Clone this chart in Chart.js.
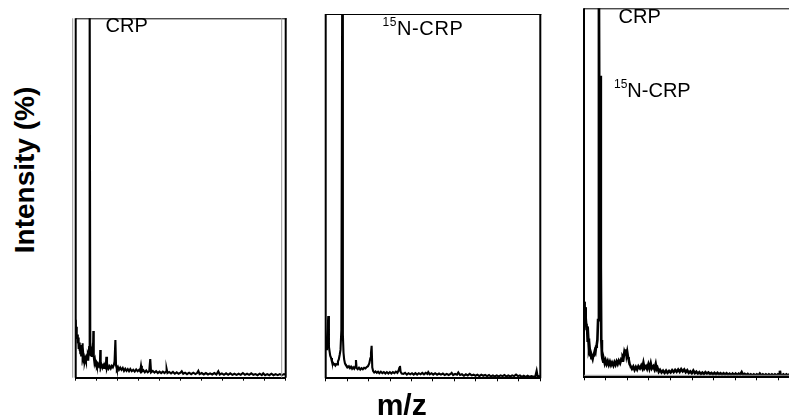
<!DOCTYPE html>
<html>
<head>
<meta charset="utf-8">
<script src="https://cdn.jsdelivr.net/npm/chart.js@4.4.0/dist/chart.umd.min.js"></script>
<style>
  html, body { margin: 0; padding: 0; background: #fff; overflow: hidden; }
  #page { position: relative; width: 789px; height: 419px; overflow: hidden;
          font-family: "Liberation Sans", Arial, sans-serif; color: #000; }
  .panel { position: absolute; top: 0; height: 419px; }
  .lbl { position: absolute; font-size: 20px; line-height: 20px; white-space: nowrap; }
  .lbl sup { font-size: 12px; position: relative; top: -9px; vertical-align: baseline; }
  .axis-title { position: absolute; font-weight: bold; font-size: 28px; line-height: 28px;
                white-space: nowrap; text-align: center; }
</style>
</head>
<body>
<div id="page">
  <div class="panel" id="p1"><canvas id="c1"></canvas></div>
  <div class="panel" id="p2"><canvas id="c2"></canvas></div>
  <div class="panel" id="p3"><canvas id="c3"></canvas></div>

  <div class="lbl" id="t1" style="left:105.5px; top:14.8px;"></div>
  <div class="lbl" id="t2" style="left:382.5px; top:18.1px; letter-spacing:0.6px;"></div>
  <div class="lbl" id="t3a" style="left:618.5px; top:6.4px;"></div>
  <div class="lbl" id="t3b" style="left:614px; top:79.8px;"></div>

  <div class="axis-title" id="ytitle" style="left:-75px; top:156px; width:200px; transform:rotate(-90deg);"></div>
  <div class="axis-title" id="xtitle" style="left:341.7px; top:390px; width:120px; font-size:30px; line-height:30px;"></div>
</div>
<script>
// axis titles and peak labels
const yTitle = 'Intensity (%)';
const xTitle = 'm/z';
const panelLabels = [['CRP'], ['15N-CRP'], ['CRP', '15N-CRP']];

// m/z axis: 0..100 (relative), minor ticks every 10, no labels
const mzMin = 0, mzMax = 100, mzStep = 10;

// spectra: [m/z (relative), intensity %]
const crpSpectrum = [
  [0,16.1],[0.2,12.5],[0.4,14.2],[0.6,10.8],[0.8,12.0],[1.0,9.5],[1.2,11.2],[1.4,8.0],[1.6,9.8],[1.8,7.5],
  [2.0,9.0],[2.2,6.8],[2.4,9.1],[2.6,6.2],[2.8,7.5],[3.0,8.4],[3.2,9.6],[3.4,5.8],[3.6,6.6],[3.8,5.2],
  [4.0,5.6],[4.3,4.5],[4.6,5.3],[4.9,4.6],[5.2,5.6],[5.5,5.0],[5.8,6.5],[6.1,6.0],[6.4,8.5],[6.6,9.6],
  [6.7,110],[6.95,8.7],[7.2,6.0],[7.4,6.8],[7.7,5.8],[7.9,7.2],[8.2,6.0],[8.4,13.0],[8.6,5.8],[8.9,4.3],
  [9.2,5.0],[9.5,3.8],[9.8,4.2],[10.1,3.4],[10.4,3.9],[10.8,3.3],[11.1,3.8],[11.5,3.1],[11.7,7.7],[11.9,3.0],
  [12.3,3.6],[12.7,2.8],[13.1,3.4],[13.5,2.7],[13.9,3.3],[14.3,2.8],[14.6,5.8],[14.9,2.6],[15.3,3.3],[15.7,2.6],
  [16.2,3.2],[16.7,2.6],[17.2,3.3],[17.7,2.9],[18.2,3.6],[18.5,4.5],[18.9,10.5],[19.2,3.4],[19.6,2.4],[20.1,3.0],
  [20.6,2.2],[21.2,2.8],[21.8,2.2],[22.4,2.7],[23.0,1.9],[23.6,2.5],[24.2,1.9],[24.8,2.4],[25.4,1.8],[26.0,2.4],
  [26.7,1.8],[27.4,2.2],[28.1,1.7],[28.8,2.3],[29.5,1.8],[30.2,2.2],[30.7,1.8],[31.1,3.3],[31.5,1.7],[32.2,2.1],
  [32.9,1.5],[33.6,2.0],[34.3,1.5],[35.0,1.8],[35.5,5.2],[35.9,1.5],[36.7,1.9],[37.5,1.4],[38.3,1.8],[39.1,1.3],
  [39.9,1.7],[40.7,1.3],[41.5,1.7],[42.3,1.3],[43.0,1.7],[43.3,2.4],[43.7,1.3],[44.5,1.6],[45.4,1.2],[46.3,1.6],
  [47.2,1.1],[48.1,1.5],[49.0,1.1],[49.9,1.4],[50.5,1.8],[51.2,1.1],[52.1,1.4],[53.0,1.0],[54.0,1.4],[55.0,1.0],
  [56.0,1.4],[57.0,1.0],[57.8,1.3],[58.4,1.9],[59.0,1.0],[60.0,1.3],[61.0,0.9],[62.0,1.3],[63.0,0.9],[64.0,1.2],
  [65.0,0.9],[66.0,1.3],[67.0,0.9],[67.9,1.8],[68.6,0.9],[69.6,1.2],[70.6,0.8],[71.6,1.2],[72.6,0.8],[73.6,1.2],
  [74.6,0.8],[75.6,1.1],[76.6,0.8],[77.6,1.1],[78.6,0.8],[79.6,1.3],[80.6,0.8],[81.6,1.1],[82.6,0.8],[83.6,1.2],
  [84.6,0.8],[85.6,1.0],[86.6,0.7],[87.6,1.1],[88.6,0.7],[89.3,1.2],[90.2,0.7],[91.2,1.0],[92.2,0.7],[93.2,1.1],
  [94.2,0.7],[95.2,1.0],[96.2,0.7],[97.2,1.0],[98.2,0.7],[99.2,1.0],[100,0.8]
];

const n15Spectrum = [
  [0,9.6],[0.3,8.0],[0.6,11.0],[0.9,13.3],[1.2,17.1],[1.5,8.7],[1.8,7.4],[2.1,6.2],[2.5,5.6],[2.9,4.6],
  [3.3,4.4],[3.7,3.8],[4.1,3.9],[4.5,3.5],[4.9,3.9],[5.3,3.8],[5.7,4.6],[6.1,5.2],[6.5,6.4],[6.9,7.8],
  [7.3,13.3],[7.7,110],[8.0,12.0],[8.3,7.0],[8.6,5.2],[9.0,4.0],[9.4,3.6],[9.8,3.4],[10.3,3.0],[10.8,3.3],
  [11.3,2.8],[11.8,3.2],[12.3,2.6],[12.8,3.0],[13.3,2.6],[13.8,3.2],[14.1,5.0],[14.4,2.8],[14.9,2.5],[15.5,2.9],
  [16.1,2.4],[16.7,2.8],[17.3,2.5],[17.9,2.9],[18.5,2.7],[19.1,3.1],[19.7,3.3],[20.3,4.1],[20.8,5.5],[21.1,6.9],
  [21.4,8.9],[21.7,3.0],[22.1,2.0],[22.6,1.6],[23.2,1.9],[23.8,1.5],[24.4,1.8],[25.0,1.4],[25.7,1.8],[26.4,1.4],
  [27.1,1.7],[27.8,1.3],[28.5,1.7],[29.2,1.3],[29.9,1.7],[30.6,1.3],[31.3,1.7],[32.0,1.4],[32.7,1.8],[33.4,1.5],
  [34.0,2.2],[34.3,2.8],[34.6,3.4],[34.9,1.8],[35.4,1.3],[36.2,1.2],[37.0,1.5],[37.8,1.0],[38.6,1.4],[39.4,1.1],
  [40.2,1.4],[41.0,1.0],[41.8,1.4],[42.6,1.0],[43.4,1.4],[44.2,1.1],[45.0,1.5],[45.8,1.1],[46.6,1.5],[47.4,1.2],
  [47.8,1.7],[48.5,1.1],[49.3,1.4],[50.1,1.0],[51.0,1.4],[51.9,1.0],[52.8,1.3],[53.7,1.0],[54.6,1.3],[55.5,0.9],
  [56.4,1.2],[57.3,0.9],[58.2,1.2],[58.7,1.5],[59.4,0.9],[60.3,1.2],[61.2,1.0],[61.8,1.6],[62.6,0.9],[63.5,1.1],
  [64.4,0.7],[65.3,1.1],[66.2,0.8],[67.1,1.2],[68.0,0.8],[68.9,1.0],[69.8,0.7],[70.7,1.0],[71.6,0.6],[72.5,1.0],
  [73.4,0.7],[74.3,0.9],[75.2,0.6],[76.1,0.9],[77.0,0.5],[77.9,0.8],[78.8,0.5],[79.7,0.8],[80.6,0.5],[81.5,0.8],
  [82.4,0.6],[83.3,0.9],[84.2,0.5],[85.1,0.8],[86.0,0.5],[86.9,0.8],[87.8,0.6],[88.7,1.0],[89.6,0.6],[90.5,0.8],
  [91.4,0.4],[92.3,0.7],[93.2,0.4],[94.1,0.7],[95.0,0.4],[95.9,0.6],[96.8,0.4],[97.7,0.6],[98.3,2.1],[98.8,0.4],
  [99.4,0.6],[100,0.4]
];

const mixSpectrum = [
  [0,20.5],[0.3,17.3],[0.5,19.0],[0.8,16.0],[1.0,14.5],[1.2,12.8],[1.4,13.8],[1.7,9.6],[2.0,10.5],[2.3,7.4],
  [2.6,8.0],[2.9,6.0],[3.1,6.6],[3.4,5.2],[3.7,5.6],[4.0,5.0],[4.3,5.9],[4.6,6.2],[5.0,7.2],[5.3,6.8],
  [5.6,8.3],[5.9,8.8],[6.2,10.1],[6.5,15.5],[6.9,110],[7.2,50],[7.5,81.7],[7.8,30],[8.0,10.1],[8.3,6.0],
  [8.5,5.1],[8.9,4.2],[9.2,4.8],[9.6,3.8],[10.0,4.6],[10.5,3.6],[11.0,4.4],[11.5,3.4],[12.0,4.2],[12.5,3.3],
  [13.0,4.0],[13.6,3.2],[14.1,4.1],[14.6,3.4],[15.1,4.3],[15.6,3.6],[16.1,4.5],[16.7,3.8],[17.2,4.8],[17.6,4.5],
  [17.9,5.6],[18.3,5.2],[18.7,6.9],[19.1,6.2],[19.4,7.6],[19.7,6.0],[20.0,6.9],[20.4,5.4],[20.7,4.8],[21.1,3.6],
  [21.6,3.0],[22.2,2.3],[22.8,2.9],[23.4,2.0],[24.0,2.8],[24.6,2.1],[25.2,3.0],[25.9,2.4],[26.5,3.2],[27.0,2.5],
  [27.5,3.9],[28.0,2.4],[28.7,3.0],[29.2,2.3],[29.8,3.5],[30.3,2.4],[30.9,3.8],[31.4,2.4],[32.1,3.0],[32.6,2.2],
  [33.2,3.6],[33.6,2.2],[34.0,2.6],[34.6,1.5],[35.2,2.0],[35.9,1.3],[36.6,1.8],[37.3,1.2],[38.0,1.8],[38.7,1.2],
  [39.4,1.7],[40.1,1.3],[40.8,1.9],[41.5,1.4],[42.2,2.0],[42.9,1.5],[43.6,2.1],[44.3,1.5],[45.0,2.2],[45.7,1.6],
  [46.4,2.1],[47.1,1.4],[47.8,1.9],[48.5,1.2],[49.2,1.6],[49.9,1.1],[50.6,1.8],[51.3,1.1],[52.0,1.5],[52.7,1.0],
  [53.4,1.4],[54.1,0.9],[54.8,1.3],[55.5,0.9],[56.2,1.4],[56.9,1.0],[57.6,1.3],[58.3,0.9],[59.0,1.2],[59.7,0.8],
  [60.4,1.2],[61.1,0.8],[61.8,1.2],[62.5,0.8],[63.2,1.1],[63.9,0.7],[64.6,1.1],[65.3,0.7],[66.0,1.1],[66.7,0.7],
  [67.4,1.0],[68.1,0.6],[68.8,1.0],[69.5,0.6],[70.2,1.0],[70.9,0.6],[71.6,1.0],[72.3,0.7],[73.0,1.4],[73.7,0.6],
  [74.4,0.9],[75.1,0.6],[75.8,0.9],[76.5,0.5],[77.2,0.8],[77.9,0.5],[78.6,0.8],[79.3,0.5],[80.0,0.8],[80.7,0.5],
  [81.4,1.0],[82.1,0.5],[82.8,0.8],[83.5,0.5],[84.2,0.8],[84.9,0.5],[85.6,0.8],[86.3,0.5],[87.0,0.8],[87.7,0.5],
  [88.4,0.8],[89.1,0.5],[89.8,0.8],[90.4,0.6],[90.7,1.8],[91.0,0.6],[91.6,0.5],[92.3,0.8],[93.0,0.5],[93.7,0.8],
  [94.4,0.5],[95.1,0.8],[95.8,0.5],[96.5,0.8],[97.2,0.5],[97.9,0.8],[98.6,0.5],[99.3,0.8],[100,0.5]
];

// box around each plot (drawn on the chart area)
const framePlugin = {
  id: 'frame',
  afterDraw(chart, args, o) {
    const ctx = chart.ctx, a = chart.chartArea;
    ctx.save();
    ctx.strokeStyle = '#000';
    ctx.lineWidth = 1;
    ctx.beginPath();
    ctx.moveTo(a.left, a.top + 0.5);
    ctx.lineTo(o.right ? a.right + 1 : chart.width, a.top + 0.5);
    ctx.stroke();
    ctx.lineWidth = 2;
    ctx.beginPath();
    ctx.moveTo(a.left, a.top);
    ctx.lineTo(a.left, a.bottom);
    if (o.right) {
      ctx.moveTo(a.right, a.top);
      ctx.lineTo(a.right, a.bottom);
    }
    ctx.stroke();
    ctx.strokeStyle = '#999';
    ctx.lineWidth = 1;
    ctx.beginPath();
    if (o.grayLeft) { ctx.moveTo(a.left + o.grayLeft, a.top); ctx.lineTo(a.left + o.grayLeft, a.bottom); }
    if (o.grayRight) { ctx.moveTo(a.right + o.grayRight, a.top); ctx.lineTo(a.right + o.grayRight, a.bottom); }
    if (o.grayBottom) { ctx.moveTo(a.left, a.bottom - o.grayBottom); ctx.lineTo(chart.width, a.bottom - o.grayBottom); }
    ctx.stroke();
    ctx.restore();
  }
};

function makeChart(id, geo, spectrum, lw, frame) {
  const canvas = document.getElementById(id);
  const box = canvas.parentNode;
  const cl = Math.floor(geo.left) - 10;
  const cw = Math.ceil(geo.right) + 12 - cl;
  box.style.left = cl + 'px';
  box.style.width = cw + 'px';
  canvas.width = cw;
  canvas.height = 419;
  return new Chart(canvas, {
    type: 'line',
    data: {
      datasets: [{
        data: spectrum.map(p => ({ x: p[0], y: p[1] })),
        borderColor: '#000',
        borderWidth: lw,
        borderJoinStyle: 'miter',
        pointRadius: 0,
        tension: 0,
        fill: false
      }]
    },
    options: {
      responsive: false,
      animation: false,
      parsing: false,
      layout: {
        autoPadding: false,
        padding: { left: geo.left - cl, right: cl + cw - geo.right, top: geo.top, bottom: 419 - geo.bottom - 3 }
      },
      scales: {
        x: {
          type: 'linear', min: mzMin, max: mzMax,
          ticks: { display: false, stepSize: mzStep },
          grid: { drawOnChartArea: false, drawTicks: true, tickLength: 3, color: '#000', lineWidth: 1 },
          border: { display: true, color: '#000', width: 2 },
          afterFit: s => { s.height = 3; }
        },
        y: { display: false, min: 0, max: 100 }
      },
      plugins: { legend: { display: false }, tooltip: { enabled: false }, frame: frame }
    },
    plugins: [framePlugin]
  });
}

makeChart('c1', { left: 75.7, right: 285.7, top: 18.3, bottom: 377.7 }, crpSpectrum, 2.1,
  { right: true, grayLeft: -3, grayRight: -4 });
makeChart('c2', { left: 325.7, right: 540.3, top: 14, bottom: 378.3 }, n15Spectrum, 2.1,
  { right: true });
makeChart('c3', { left: 584, right: 800, top: 8.3, bottom: 377.3 }, mixSpectrum, 2.6,
  { right: false, grayBottom: 2 });

function setLabel(el, text) {
  const m = text.match(/^(\d+)(.*)$/);
  if (m) { el.innerHTML = '<sup>' + m[1] + '</sup>' + m[2]; } else { el.textContent = text; }
}
setLabel(document.getElementById('t1'), panelLabels[0][0]);
setLabel(document.getElementById('t2'), panelLabels[1][0]);
setLabel(document.getElementById('t3a'), panelLabels[2][0]);
setLabel(document.getElementById('t3b'), panelLabels[2][1]);
document.getElementById('ytitle').textContent = yTitle;
document.getElementById('xtitle').textContent = xTitle;
</script>
</body>
</html>
